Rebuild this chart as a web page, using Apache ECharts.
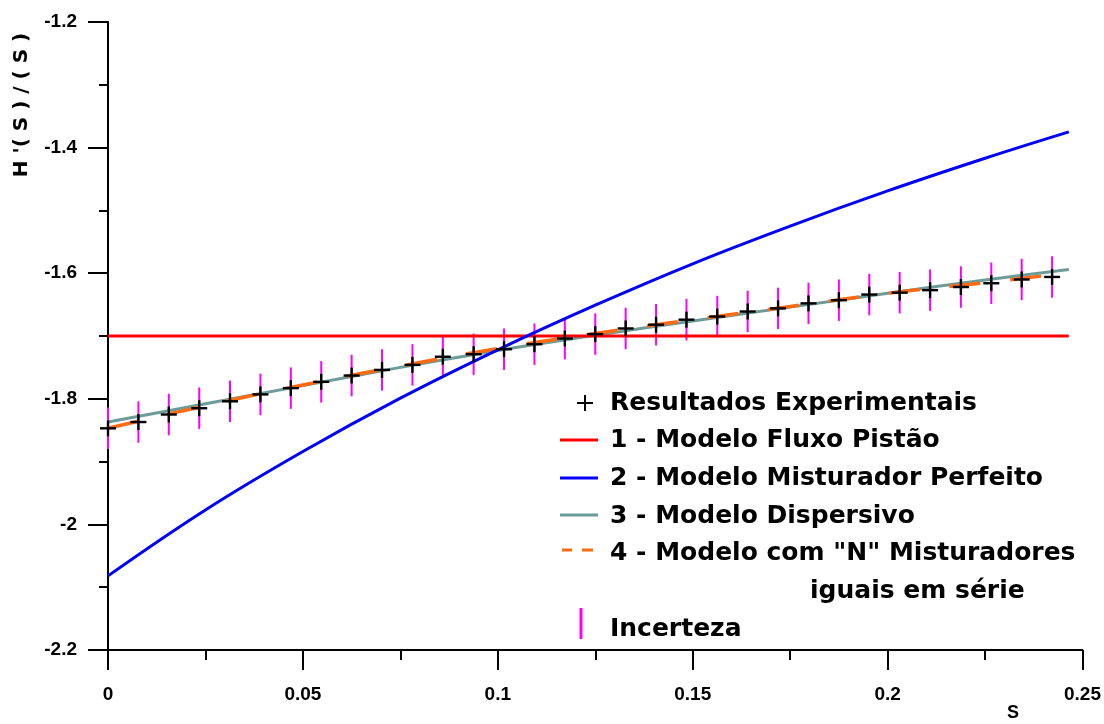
<!DOCTYPE html>
<html><head><meta charset="utf-8">
<script src="https://cdn.jsdelivr.net/npm/echarts@6/dist/echarts.min.js"></script>
<style>html,body{margin:0;padding:0;background:#fff}#c{width:1104px;height:724px}</style>
</head><body><div id="c"></div>
<script>
// Experimental results (S, H'(S)/H(S)) and uncertainty half-width
const sExp=[0,0.0078,0.0156,0.0234,0.0313,0.0391,0.0469,0.0547,0.0625,0.0703,0.0781,0.0859,0.0938,0.1016,0.1094,0.1172,0.125,0.1328,0.1406,0.1484,0.1563,0.1641,0.1719,0.1797,0.1875,0.1953,0.2031,0.2109,0.2188,0.2266,0.2344,0.2422];
const yExp=[-1.847,-1.837,-1.825,-1.815,-1.804,-1.793,-1.783,-1.773,-1.763,-1.754,-1.746,-1.733,-1.729,-1.721,-1.713,-1.704,-1.697,-1.688,-1.682,-1.674,-1.669,-1.661,-1.656,-1.648,-1.643,-1.634,-1.631,-1.627,-1.622,-1.616,-1.610,-1.606];
const errExp=[0.033,0.033,0.033,0.033,0.033,0.033,0.033,0.033,0.033,0.033,0.033,0.033,0.033,0.033,0.033,0.033,0.033,0.033,0.033,0.033,0.033,0.033,0.033,0.033,0.033,0.033,0.033,0.033,0.033,0.033,0.033,0.033];
// Models
const sModel=[0,0.025,0.05,0.075,0.1,0.125,0.15,0.175,0.2,0.225,0.2465];
const yPlug=[-1.7,-1.7,-1.7,-1.7,-1.7,-1.7,-1.7,-1.7,-1.7,-1.7,-1.7];
const yMixer=[-2.082,-1.977,-1.884,-1.799,-1.722,-1.651,-1.585,-1.525,-1.469,-1.417,-1.375];
const yDisp=[-1.837,-1.808,-1.779,-1.750,-1.723,-1.699,-1.676,-1.654,-1.632,-1.611,-1.594];
const sTanks=[0,0.025,0.05,0.075,0.1,0.125,0.15,0.175,0.2,0.225,0.2444];
const yTanks=[-1.847,-1.811,-1.778,-1.748,-1.720,-1.696,-1.674,-1.653,-1.632,-1.615,-1.601];
// Labels
const legendLabels=['Resultados Experimentais','1 - Modelo Fluxo Pistão','2 - Modelo Misturador Perfeito','3 - Modelo Dispersivo','4 - Modelo com "N" Misturadores','iguais em série','Incerteza'];
const xName='S';
const yName="H '( S ) / ( S )";

const FONT='"DejaVu Sans", Arial, sans-serif';
const TICKFONT='"Liberation Sans", Arial, sans-serif';
const zip=(xs,ys)=>xs.map((x,i)=>[x,ys[i]]);

function renderErr(params, api){
  const x=api.value(0), lo=api.value(1), hi=api.value(2);
  const p1=api.coord([x,lo]), p2=api.coord([x,hi]);
  return {type:'line', shape:{x1:p1[0],y1:p1[1],x2:p2[0],y2:p2[1]}, style:{stroke:'#ff00ff',lineWidth:2}};
}
function renderPlus(params, api){
  const c=api.coord([api.value(0),api.value(1)]);
  const h=8;
  return {type:'group',children:[
    {type:'line',shape:{x1:c[0]-h,y1:c[1],x2:c[0]+h,y2:c[1]},style:{stroke:'#000',lineWidth:2.4}},
    {type:'line',shape:{x1:c[0],y1:c[1]-h,x2:c[0],y2:c[1]+h},style:{stroke:'#000',lineWidth:2.4}}
  ]};
}

const lineSeries=(name,data,color,extra)=>Object.assign({
  name,type:'line',data,showSymbol:false,smooth:0.4,
  lineStyle:{color,width:3},itemStyle:{color},z:3
},extra||{});

const legTextX=610;
const rowsY=[403,440,478,516,553,591,629];
const txt=(t,x,y)=>({type:'text',x:x,y:y,style:{text:t,fill:'#000',font:'bold 25px '+FONT,textAlign:'left',textVerticalAlign:'middle'},z:100});
const seg=(x1,y1,x2,y2,color,w)=>({type:'line',shape:{x1,y1,x2,y2},style:{stroke:color,lineWidth:w},z:100});

const graphic=[
  seg(577,403,593,403,'#000',2), seg(585,395,585,411,'#000',2),
  txt(legendLabels[0],legTextX,rowsY[0]),
  seg(560,440,598,440,'#ff0000',3), txt(legendLabels[1],legTextX,rowsY[1]),
  seg(560,478,598,478,'#0000ff',3), txt(legendLabels[2],legTextX,rowsY[2]),
  seg(560,515,598,515,'#6c9c99',3), txt(legendLabels[3],legTextX,rowsY[3]),
  seg(562,550,572,550,'#ff6a10',3), seg(582,550,593,550,'#ff6a10',3), txt(legendLabels[4],legTextX,rowsY[4]),
  txt(legendLabels[5],810,rowsY[5]),
  seg(581,608,581,639,'#ff00ff',3), txt(legendLabels[6],legTextX,rowsY[6]),
  {type:'text',x:1013,y:713,style:{text:xName,fill:'#000',font:'bold 18px '+TICKFONT,textAlign:'center',textVerticalAlign:'middle'}},
  {type:'text',x:22,y:105,rotation:Math.PI/2,style:{text:yName,fill:'#000',font:'bold 20px '+FONT,textAlign:'center',textVerticalAlign:'middle'}}
];

const axisCommon={
  axisLine:{show:true,onZero:false,lineStyle:{color:'#000',width:2}},
  axisTick:{show:true,inside:false,length:20,lineStyle:{color:'#000',width:2}},
  minorTick:{show:true,splitNumber:2,length:10,lineStyle:{color:'#000',width:2}},
  splitLine:{show:false},minorSplitLine:{show:false},
};

const chart=echarts.init(document.getElementById('c'));
chart.setOption({
  animation:false,
  backgroundColor:'#fff',
  grid:{left:108,right:19,top:22,bottom:74,containLabel:false},
  xAxis:Object.assign({type:'value',min:0,max:0.25,interval:0.05,
    axisLabel:{color:'#000',fontWeight:'bold',fontSize:19,fontFamily:TICKFONT,margin:35}},axisCommon),
  yAxis:Object.assign({type:'value',min:-2.2,max:-1.2,interval:0.2,
    axisLabel:{color:'#000',fontWeight:'bold',fontSize:19,fontFamily:TICKFONT,margin:31}},axisCommon,
    {minorTick:{show:true,splitNumber:2,length:9,lineStyle:{color:'#000',width:2}}}),
  graphic:graphic,
  series:[
    {name:'Incerteza',type:'custom',renderItem:renderErr,data:sExp.map((s,i)=>[s,yExp[i]-errExp[i],yExp[i]+errExp[i]]),z:1},
    lineSeries('3 - Modelo Dispersivo',zip(sModel,yDisp),'#6c9c99',{z:2}),
    lineSeries('4 - Modelo com N Misturadores',zip(sTanks,yTanks),'#ff6a10',{z:3,lineStyle:{color:'#ff6a10',width:3.5,type:[31,30]}}),
    lineSeries('1 - Modelo Fluxo Pistão',zip(sModel,yPlug),'#ff0000',{z:4,smooth:false}),
    lineSeries('2 - Modelo Misturador Perfeito',zip(sModel,yMixer),'#0000ff',{z:5}),
    {name:'Resultados Experimentais',type:'custom',renderItem:renderPlus,data:zip(sExp,yExp),z:6}
  ]
});
</script></body></html>
